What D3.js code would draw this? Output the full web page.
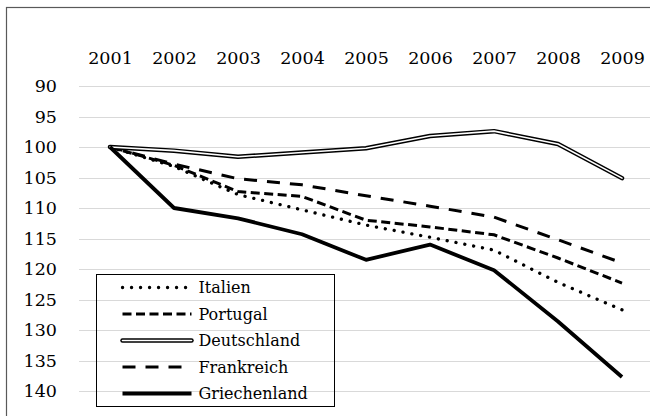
<!DOCTYPE html>
<html>
<head>
<meta charset="utf-8">
<script src="https://cdn.jsdelivr.net/npm/d3@7"></script>
<style>
  html, body { margin: 0; padding: 0; background: #fff; }
  svg { display: block; }
</style>
</head>
<body>
<div id="chart"></div>
<script>
const YEARS = ['2001', '2002', '2003', '2004', '2005', '2006', '2007', '2008', '2009'];
const Y_TICKS = [90, 95, 100, 105, 110, 115, 120, 125, 130, 135, 140];

const italien      = [100, 103.2, 107.8, 110.3, 112.8, 114.8, 116.9, 122.2, 126.7];
const portugal     = [100, 103.0, 107.3, 108.1, 112.0, 113.1, 114.4, 118.2, 122.3];
const deutschland  = [100, 100.6, 101.6, 100.9, 100.2, 98.2, 97.4, 99.5, 105.1];
const frankreich   = [100, 102.8, 105.2, 106.2, 108.0, 109.7, 111.5, 115.2, 119.0];
const griechenland = [100, 110.0, 111.7, 114.3, 118.5, 116.0, 120.2, 128.6, 137.7];

const SERIES = [
    { name: 'Italien',      values: italien,      style: 'dot' },
    { name: 'Portugal',     values: portugal,     style: 'dash' },
    { name: 'Deutschland',  values: deutschland,  style: 'double' },
    { name: 'Frankreich',   values: frankreich,   style: 'longdash' },
    { name: 'Griechenland', values: griechenland, style: 'solid' }
];

const FONT = '"DejaVu Serif", "Liberation Serif", serif';
const W = 650, H = 416;

const svg = d3.select('#chart').append('svg')
    .attr('width', W)
    .attr('height', H)
    .style('font-family', FONT);

// outer frame, cut off on the right and bottom
svg.append('rect')
    .attr('x', 6.5).attr('y', 7.5)
    .attr('width', 700).attr('height', 500)
    .attr('fill', 'none').attr('stroke', '#595959').attr('stroke-width', 1.2);

const x = d3.scalePoint()
    .domain(YEARS)
    .range([78, 654])
    .padding(0.5);

const y = d3.scaleLinear()
    .domain([90, 140])
    .range([86, 391]);

// gridlines
svg.append('g').selectAll('line').data(Y_TICKS).enter().append('line')
    .attr('x1', 79).attr('x2', W)
    .attr('y1', d => Math.round(y(d)) + 0.5)
    .attr('y2', d => Math.round(y(d)) + 0.5)
    .attr('stroke', '#d9d9d9').attr('stroke-width', 1);

// y axis labels
svg.append('g').attr('transform', 'translate(57,0)')
    .call(d3.axisLeft(y).tickValues(Y_TICKS).tickSize(0).tickPadding(0))
    .call(g => g.select('.domain').remove())
    .call(g => g.attr('font-family', FONT))
    .call(g => g.selectAll('.tick text')
        .attr('fill', '#000').style('font-size', '17.5px'));

// x axis labels on top
svg.append('g').attr('transform', 'translate(0,64)')
    .call(d3.axisTop(x).tickSize(0).tickPadding(0))
    .call(g => g.select('.domain').remove())
    .call(g => g.attr('font-family', FONT))
    .call(g => g.selectAll('.tick text')
        .attr('fill', '#000').style('font-size', '17.5px'));

const line = d3.line()
    .x((d, i) => x(YEARS[i]))
    .y(d => y(d));

function drawStroke(sel, style) {
    if (style === 'dot') {
        sel.append('path').attr('stroke', '#000').attr('stroke-width', 3.3)
            .attr('stroke-linecap', 'round').attr('stroke-dasharray', '0.1 8.9');
    } else if (style === 'dash') {
        sel.append('path').attr('stroke', '#000').attr('stroke-width', 3)
            .attr('stroke-dasharray', '9 4.5');
    } else if (style === 'longdash') {
        sel.append('path').attr('stroke', '#000').attr('stroke-width', 3)
            .attr('stroke-dasharray', '13 10');
    } else if (style === 'double') {
        sel.append('path').attr('stroke', '#000').attr('stroke-width', 4.5)
            .attr('stroke-linecap', 'round').attr('stroke-linejoin', 'round');
        sel.append('path').attr('stroke', '#fff').attr('stroke-width', 1.6)
            .attr('stroke-linecap', 'round').attr('stroke-linejoin', 'round');
    } else {
        sel.append('path').attr('stroke', '#000').attr('stroke-width', 3.8)
            .attr('stroke-linejoin', 'round');
    }
    sel.selectAll('path').attr('fill', 'none');
}

// series lines, drawn so Griechenland and Deutschland are on top
const order = [0, 1, 3, 2, 4];
order.forEach(i => {
    const s = SERIES[i];
    const g = svg.append('g');
    drawStroke(g, s.style);
    g.selectAll('path').attr('d', line(s.values));
});

// legend
const legend = svg.append('g').attr('transform', 'translate(96.5,274.5)');
legend.append('rect')
    .attr('width', 238).attr('height', 132)
    .attr('fill', 'none').attr('stroke', '#000').attr('stroke-width', 1);

SERIES.forEach((s, i) => {
    const ly = 13 + i * 26.5;
    const lg = legend.append('g');
    drawStroke(lg, s.style);
    lg.selectAll('path').attr('d', `M26,${ly}L95,${ly}`);
    lg.append('text')
        .attr('x', 102).attr('y', ly + 5.5)
        .attr('fill', '#000').style('font-size', '16px')
        .text(s.name);
});
</script>
</body>
</html>
